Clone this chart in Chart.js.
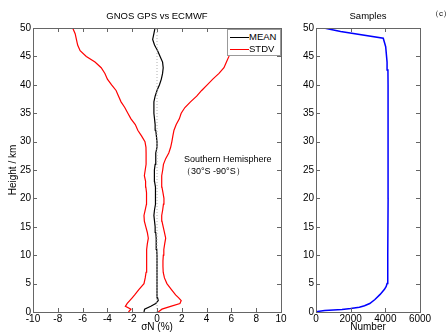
<!DOCTYPE html>
<html>
<head>
<meta charset="utf-8">
<script src="https://cdn.jsdelivr.net/npm/chart.js@4"></script>
<style>
  body { margin: 0; background: #fff; font-family: "Liberation Sans", Arial, sans-serif; }
  #wrap { position: relative; width: 448px; height: 333px; overflow: hidden; }
  #leftBox { position: absolute; left: 0; top: 0; width: 290px; height: 333px; }
  #rightBox { position: absolute; left: 290px; top: 0; width: 158px; height: 333px; }
  .note { position: absolute; font-size: 9px; color: #000; white-space: nowrap; }
  #legend { position: absolute; left: 227px; top: 29px; width: 52px; height: 25px; background: #fff; border: 1px solid #999; font-size: 9.5px; }
  #legend div { position: relative; height: 12px; line-height: 12px; }
  #legend span.ln { position: absolute; left: 2px; top: 6px; width: 19px; height: 0; border-top: 1.2px solid; }
  #legend span.tx { position: absolute; left: 21px; top: 0; }
</style>
</head>
<body>
<div id="wrap">
  <div id="leftBox"><canvas id="meanChart"></canvas></div>
  <div id="rightBox"><canvas id="sampleChart"></canvas></div>
  <div id="legend">
    <div style="margin-top:1px"><span class="ln" style="border-color:#000"></span><span class="tx">MEAN</span></div>
    <div><span class="ln" style="border-color:#f00"></span><span class="tx">STDV</span></div>
  </div>
  <div class="note" style="left:184px; top:154px;">Southern Hemisphere</div>
  <div class="note" style="left:182px; top:165px;">（30°S -90°S）</div>
  <div class="note" style="left:431px; top:8px; font-size:8px;">（c）</div>
</div>
<script>
// 高度 (km)
const heights = [0, 0.5, 1, 1.5, 2, 2.5, 3, 4, 5, 6, 7, 8, 9, 10, 11, 12, 13, 14, 15, 16, 17, 18, 19, 20,
  21, 22, 23, 24, 25, 26, 27, 28, 29, 30, 31, 32, 33, 34, 35, 36, 37, 38, 39, 40,
  41, 42, 43, 44, 45, 46, 47, 48, 49, 50];
// MEAN (%)
const meanVals = [-1.05, -1.0, -0.5, -0.1, 0.1, 0.05, 0, 0, 0, 0, 0, 0, 0, 0, -0.02, -0.05, -0.08, -0.1, -0.15, -0.2, -0.25, -0.2, -0.12, -0.1,
  -0.12, -0.15, -0.2, -0.22, -0.2, -0.15, -0.1, -0.1, 0, 0, -0.05, -0.1, -0.15, -0.2, -0.25, -0.25, -0.25, -0.15, 0, 0.2,
  0.35, 0.45, 0.5, 0.45, 0.25, 0.05, -0.2, -0.35, -0.25, -0.16];
// STDV 左側
const stdvLow = [-2.3, -2.1, -2.55, -2.4, -2.2, -2.0, -1.8, -1.45, -1.05, -0.95, -0.88, -0.85, -0.83, -0.83, -0.83, -0.78, -0.7, -0.78, -0.9, -1.02, -1.05, -0.95, -0.85, -0.83,
  -0.86, -0.9, -0.92, -1.02, -0.95, -0.88, -0.88, -0.88, -0.89, -0.97, -1.25, -1.55, -1.75, -2.1, -2.35, -2.6, -2.9, -3.1, -3.3, -3.66,
  -4.0, -4.2, -4.5, -5.0, -5.7, -6.2, -6.4, -6.5, -6.6, -6.8];
// STDV 右側
const stdvHigh = [0.1, 0.4, 1.1, 1.85, 1.95, 1.75, 1.5, 1.15, 0.8, 0.6, 0.5, 0.48, 0.48, 0.51, 0.55, 0.62, 0.7, 0.6, 0.5, 0.4, 0.38, 0.46, 0.52, 0.56,
  0.48, 0.4, 0.36, 0.4, 0.46, 0.52, 0.7, 0.95, 1.1, 1.2, 1.28, 1.37, 1.55, 1.8, 1.95, 2.25, 2.7, 3.2, 3.6, 4.05,
  4.5, 5.0, 5.4, 5.6, 5.8, 5.9, 6.0, 6.15, 6.3, 6.45];

// サンプル数
const sampleHeights = [0, 0.1, 0.25, 0.35, 0.45, 0.6, 0.85, 1.1, 1.5, 2.2, 3.1, 4.0, 4.5, 5, 7, 10, 20, 30, 40, 42.6, 44, 46.7, 48.2, 49.4, 50];
const sampleCounts = [0, 100, 500, 1000, 1500, 2000, 2500, 2800, 3100, 3400, 3700, 3950, 4050, 4100, 4130, 4150, 4160, 4160, 4155, 4150, 4100, 4020, 3880, 1420, 460];

// 目盛り
const heightTicks = [0, 5, 10, 15, 20, 25, 30, 35, 40, 45, 50];
const sigmaTicks = [-10, -8, -6, -4, -2, 0, 2, 4, 6, 8, 10];
const numberTicks = [0, 2000, 4000, 6000];
const zeroLineX = [0, 0];
const zeroLineY = [0, 50];

Chart.defaults.font.family = '"Liberation Sans", Arial, sans-serif';
Chart.defaults.font.size = 10;
Chart.defaults.color = '#000';

function pts(xs, ys) {
    return xs.map((x, i) => ({ x: x, y: ys[i] }));
}

function fixedTicks(list) {
    return function(scale) {
        scale.ticks = list.map(v => ({ value: v }));
    };
}

// MATLAB風の枠と内向きの目盛り
const boxPlugin = {
    id: 'box',
    afterDraw(chart) {
        const { ctx, chartArea: a, scales } = chart;
        ctx.save();
        ctx.strokeStyle = '#666';
        ctx.lineWidth = 1;
        ctx.strokeRect(Math.round(a.left) + 0.5, Math.round(a.top) + 0.5, Math.round(a.right - a.left), Math.round(a.bottom - a.top));
        ctx.beginPath();
        scales.x.ticks.forEach(t => {
            const px = Math.round(scales.x.getPixelForValue(t.value)) + 0.5;
            ctx.moveTo(px, a.bottom); ctx.lineTo(px, a.bottom - 4);
            ctx.moveTo(px, a.top); ctx.lineTo(px, a.top + 4);
        });
        scales.y.ticks.forEach(t => {
            const py = Math.round(scales.y.getPixelForValue(t.value)) + 0.5;
            ctx.moveTo(a.left, py); ctx.lineTo(a.left + 4, py);
            ctx.moveTo(a.right, py); ctx.lineTo(a.right - 4, py);
        });
        ctx.stroke();
        ctx.restore();
    }
};

function baseOptions(titleText, xMin, xMax, xList, xTitle, yAxisWidth, yTitle, rightPad) {
    return {
        responsive: true,
        maintainAspectRatio: false,
        animation: false,
        layout: { padding: { left: 0, right: rightPad, top: 0, bottom: 0 } },
        plugins: {
            legend: { display: false },
            tooltip: { enabled: false },
            title: {
                display: true,
                text: titleText,
                fullSize: false,
                font: { size: 9.5, weight: 'normal' },
                padding: { top: 11, bottom: 5.6 }
            }
        },
        elements: { point: { radius: 0 }, line: { tension: 0 } },
        scales: {
            x: {
                type: 'linear',
                min: xMin,
                max: xMax,
                afterBuildTicks: fixedTicks(xList),
                afterFit: s => { s.height = 21; },
                grid: { display: false, drawTicks: false },
                border: { display: false },
                ticks: { padding: 1, maxRotation: 0, autoSkip: false, font: { size: 10 }, callback: v => String(v) },
                title: { display: true, text: xTitle, font: { size: 10 }, padding: { top: 0, bottom: 0 } }
            },
            y: {
                type: 'linear',
                min: 0,
                max: 50,
                afterBuildTicks: fixedTicks(heightTicks),
                afterFit: s => { s.width = yAxisWidth; },
                grid: { display: false, drawTicks: false },
                border: { display: false },
                ticks: { padding: 2, autoSkip: false, font: { size: 10 }, callback: v => String(v) },
                title: { display: yTitle !== '', text: yTitle, font: { size: 10 }, padding: { top: 7, bottom: 0 } }
            }
        }
    };
}

const meanCtx = document.getElementById('meanChart').getContext('2d');
const meanChart = new Chart(meanCtx, {
    type: 'scatter',
    data: {
        datasets: [
            {
                label: 'zero',
                data: pts(zeroLineX, zeroLineY),
                showLine: true,
                borderColor: '#b0b0b0',
                borderWidth: 1,
                borderDash: [1, 2]
            },
            {
                label: 'STDV',
                data: pts(stdvLow, heights),
                showLine: true,
                borderColor: '#ff0000',
                borderWidth: 1.2
            },
            {
                label: 'STDV+',
                data: pts(stdvHigh, heights),
                showLine: true,
                borderColor: '#ff0000',
                borderWidth: 1.2
            },
            {
                label: 'MEAN',
                data: pts(meanVals, heights),
                showLine: true,
                borderColor: '#000000',
                borderWidth: 1.2
            }
        ]
    },
    options: baseOptions('GNOS GPS vs ECMWF', -10, 10, sigmaTicks, 'σN (%)', 33, 'Height / km', 9),
    plugins: [boxPlugin]
});

const sampleCtx = document.getElementById('sampleChart').getContext('2d');
const sampleChart = new Chart(sampleCtx, {
    type: 'scatter',
    data: {
        datasets: [{
            label: 'Samples',
            data: pts(sampleCounts, sampleHeights),
            showLine: true,
            borderColor: '#0000ff',
            borderWidth: 1.5
        }]
    },
    options: baseOptions('Samples', 0, 6000, numberTicks, 'Number', 26, '', 28),
    plugins: [boxPlugin]
});
</script>
</body>
</html>
